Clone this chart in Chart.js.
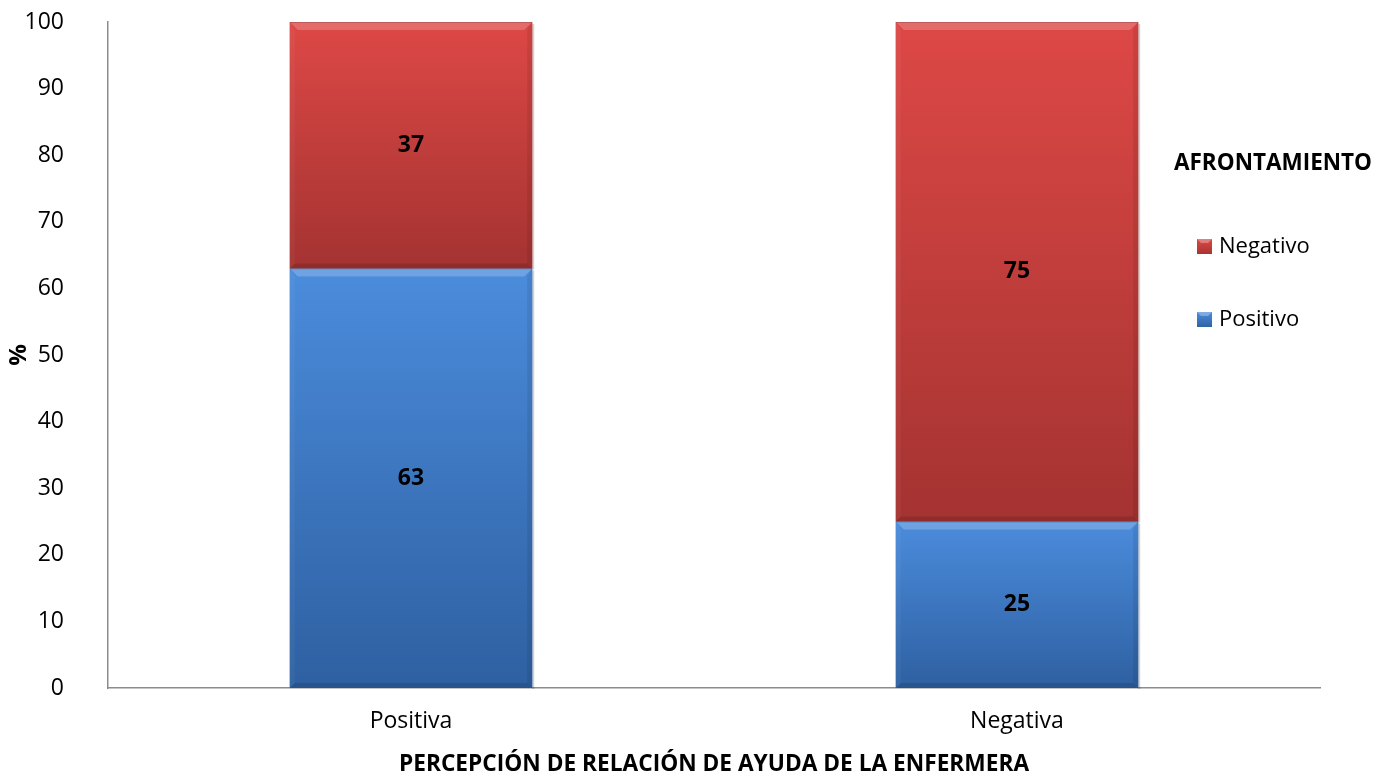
<!DOCTYPE html>
<html>
<head>
<meta charset="utf-8">
<title>Afrontamiento</title>
<script src="https://cdn.jsdelivr.net/npm/chart.js@4.4.0/dist/chart.umd.min.js"></script>
<style>
  html, body { margin: 0; padding: 0; background: #fff; overflow: hidden; }
  #wrap { position: relative; width: 1393px; height: 778px; }
</style>
</head>
<body>
<div id="wrap"><canvas id="chart"></canvas></div>
<script>
const categories = ["Positiva", "Negativa"];
const positivo = [63, 25];
const negativo = [37, 75];
const legendTitle = "AFRONTAMIENTO";
const xTitle = "PERCEPCIÓN DE RELACIÓN DE AYUDA DE LA ENFERMERA";
const yTitle = "%";

const FONT = "'Open Sans', 'Liberation Sans', sans-serif";

// light top / dark bottom for each series
const shades = {
  Positivo: ["#4b8cdc", "#2e60a1", "#3f78c4"],
  Negativo: ["#dd4846", "#a43331", "#c23d3b"]
};

// bevelled bars with a vertical gradient, drawn over the flat bars
const bevelBars = {
  id: "bevelBars",
  afterDatasetsDraw(chart) {
    const ctx = chart.ctx;
    chart.data.datasets.forEach((ds, i) => {
      const meta = chart.getDatasetMeta(i);
      const [c1, c2] = shades[ds.label];
      meta.data.forEach(bar => {
        const p = bar.getProps(["x", "y", "base", "width"], true);
        const l = p.x - p.width / 2, r = p.x + p.width / 2;
        const t = Math.min(p.y, p.base), b = Math.max(p.y, p.base);
        const g = ctx.createLinearGradient(0, t, 0, b);
        g.addColorStop(0, c1);
        g.addColorStop(1, c2);
        ctx.save();
        // soft shadow on the right
        ctx.fillStyle = "rgba(0,0,0,0.18)";
        ctx.fillRect(r, t + 2, 2, b - t - 1);
        ctx.fillStyle = g;
        ctx.fillRect(l, t, r - l, b - t);
        const k = 8;
        // top bevel
        ctx.fillStyle = "rgba(255,255,255,0.2)";
        ctx.beginPath();
        ctx.moveTo(l, t); ctx.lineTo(r, t); ctx.lineTo(r - k, t + k); ctx.lineTo(l + k, t + k);
        ctx.closePath(); ctx.fill();
        // sides
        ctx.fillStyle = "rgba(0,0,0,0.08)";
        ctx.beginPath();
        ctx.moveTo(r, t); ctx.lineTo(r, b); ctx.lineTo(r - 5, b - 5); ctx.lineTo(r - 5, t + k);
        ctx.closePath(); ctx.fill();
        ctx.fillStyle = "rgba(255,255,255,0.04)";
        ctx.beginPath();
        ctx.moveTo(l, t); ctx.lineTo(l, b); ctx.lineTo(l + 5, b - 5); ctx.lineTo(l + 5, t + k);
        ctx.closePath(); ctx.fill();
        // bottom
        ctx.fillStyle = "rgba(0,0,0,0.12)";
        ctx.beginPath();
        ctx.moveTo(l, b); ctx.lineTo(r, b); ctx.lineTo(r - 5, b - 5); ctx.lineTo(l + 5, b - 5);
        ctx.closePath(); ctx.fill();
        // top edge line
        ctx.fillStyle = "rgba(0,0,0,0.15)";
        ctx.fillRect(l, t, r - l, 1);
        ctx.restore();
      });
    });

    // value labels in the middle of each segment
    ctx.save();
    ctx.font = "bold 23px " + FONT;
    ctx.fillStyle = "#000";
    ctx.textAlign = "center";
    ctx.textBaseline = "middle";
    chart.data.datasets.forEach((ds, i) => {
      chart.getDatasetMeta(i).data.forEach((bar, j) => {
        const p = bar.getProps(["x", "y", "base"], true);
        ctx.fillText(String(ds.data[j]), p.x, (p.y + p.base) / 2);
      });
    });
    ctx.restore();
  }
};

// legend on the right, reversed order like the stack
const sideLegend = {
  id: "sideLegend",
  afterDraw(chart) {
    const ctx = chart.ctx;
    ctx.save();
    ctx.fillStyle = "#000";
    ctx.textBaseline = "middle";
    ctx.font = "bold 22.5px " + FONT;
    ctx.fillText(legendTitle, 1174, 164);
    ctx.font = "22px " + FONT;
    const items = chart.data.datasets.slice().reverse();
    items.forEach((ds, i) => {
      const y = 247 + i * 73;
      const [c1, c2] = shades[ds.label];
      const g = ctx.createLinearGradient(0, y - 8, 0, y + 8);
      g.addColorStop(0, c1);
      g.addColorStop(1, c2);
      ctx.fillStyle = g;
      ctx.fillRect(1197, y - 8, 15, 15);
      ctx.fillStyle = "rgba(255,255,255,0.3)";
      ctx.beginPath();
      ctx.moveTo(1197, y - 8); ctx.lineTo(1212, y - 8); ctx.lineTo(1208, y - 4); ctx.lineTo(1201, y - 4);
      ctx.closePath(); ctx.fill();
      ctx.fillStyle = "#000";
      ctx.fillText(ds.label, 1219, y);
    });
    ctx.restore();
  }
};

new Chart(document.getElementById("chart"), {
  type: "bar",
  data: {
    labels: categories,
    datasets: [
      { label: "Positivo", data: positivo, backgroundColor: shades.Positivo[2] },
      { label: "Negativo", data: negativo, backgroundColor: shades.Negativo[2] }
    ]
  },
  options: {
    responsive: true,
    maintainAspectRatio: false,
    animation: false,
    categoryPercentage: 1,
    barPercentage: 0.4,
    layout: { padding: { top: 22, right: 73, bottom: 0, left: 0 } },
    plugins: {
      legend: { display: false },
      tooltip: { enabled: false }
    },
    scales: {
      x: {
        stacked: true,
        grid: { display: false, drawTicks: false },
        border: { color: "#8c8c8c", width: 1.5 },
        ticks: { color: "#000", font: { family: FONT, size: 23 }, padding: 20 },
        title: {
          display: true, text: xTitle, color: "#000",
          font: { family: FONT, size: 22.7, weight: "bold" },
          padding: { top: 7, bottom: 0 }
        },
        afterFit: s => { s.height = 90; s.paddingLeft = 0; s.paddingRight = 0; }
      },
      y: {
        stacked: true,
        min: 0, max: 100,
        grid: { display: false, drawTicks: false },
        border: { color: "#8c8c8c", width: 1.5 },
        ticks: { stepSize: 10, color: "#000", font: { family: FONT, size: 23 }, padding: 44 },
        title: {
          display: true, text: yTitle, color: "#000",
          font: { family: FONT, size: 24, weight: "bold" },
          padding: { top: 5, bottom: 0 }
        },
        afterFit: s => { s.width = 108; s.paddingTop = 0; s.paddingBottom = 0; }
      }
    }
  },
  plugins: [bevelBars, sideLegend]
});
</script>
</body>
</html>
